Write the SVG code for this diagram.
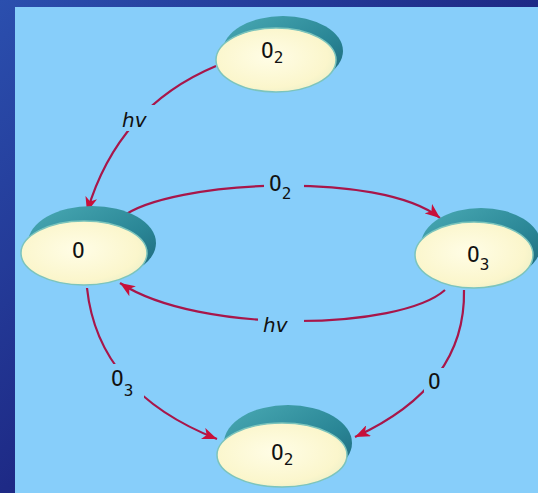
<svg xmlns="http://www.w3.org/2000/svg" width="538" height="493" viewBox="0 0 538 493">
  <defs>
    <linearGradient id="bg" x1="0" y1="0" x2="1" y2="1">
      <stop offset="0" stop-color="#2b4fae"/>
      <stop offset="0.5" stop-color="#1e2a86"/>
      <stop offset="1" stop-color="#161c5c"/>
    </linearGradient>
    <radialGradient id="cream" cx="0.45" cy="0.45" r="0.6">
      <stop offset="0" stop-color="#fffde6"/>
      <stop offset="0.8" stop-color="#fbf6cc"/>
      <stop offset="1" stop-color="#eef0c8"/>
    </radialGradient>
    <linearGradient id="shade" x1="0" y1="0" x2="1" y2="1">
      <stop offset="0" stop-color="#4aaab4"/>
      <stop offset="0.6" stop-color="#2a8696"/>
      <stop offset="1" stop-color="#1c6478"/>
    </linearGradient>
    <marker id="arr" markerUnits="userSpaceOnUse" markerWidth="18" markerHeight="12" refX="15" refY="6" orient="auto">
      <path d="M0,0 L15,6 L0,12 L4,6 Z" fill="#c8103a"/>
    </marker>
  </defs>
  <style>
    .edge { fill: none; stroke: #a8164a; stroke-width: 2.2; marker-end: url(#arr); }
    .shadow { fill: url(#shade); }
    .body { fill: url(#cream); stroke: #7cc4bc; stroke-width: 1.5; }
    .lbl { font-family: "DejaVu Sans Mono", "Liberation Mono", monospace; font-size: 21px; fill: #111; }
    .sub { font-size: 16px; }
    .hv { font-family: "DejaVu Sans", "Liberation Sans", sans-serif; font-style: italic; font-size: 20px; fill: #111; }
    .mask { fill: #87cefa; }
  </style>
  <rect x="0" y="0" width="538" height="493" fill="url(#bg)"/>
  <rect x="15" y="7" width="523" height="486" fill="#87cefa"/>

  <g id="connectors">
    <path class="edge" d="M216,66 Q118,107 87,212"/>
    <path class="edge" d="M122,217 C170,180 380,170 440,218"/>
    <path class="edge" d="M445,290 C400,330 200,335 120,283"/>
    <path class="edge" d="M87,288 Q98,392 217,439"/>
    <path class="edge" d="M464,290 Q466,386 355,437"/>
    <rect class="mask" x="119" y="105" width="38" height="26"/>
    <text class="hv" x="122" y="127">hv</text>
    <rect class="mask" x="264" y="172" width="40" height="30"/>
    <text class="lbl" x="269" y="191">O<tspan class="sub" dy="8">2</tspan></text>
    <rect class="mask" x="258" y="311" width="46" height="24"/>
    <text class="hv" x="263" y="332">hv</text>
    <rect class="mask" x="108" y="364" width="36" height="34"/>
    <text class="lbl" x="111" y="386">O<tspan class="sub" dy="10">3</tspan></text>
    <rect class="mask" x="424" y="368" width="20" height="24"/>
    <text class="lbl" x="428" y="389">O</text>
  </g>

  <g id="n-top">
    <ellipse class="shadow" cx="283" cy="51" rx="60" ry="35"/>
    <ellipse class="body" cx="276" cy="60" rx="60" ry="32"/>
    <text class="lbl" x="261" y="58">O<tspan class="sub" dy="5">2</tspan></text>
  </g>
  <g id="n-left">
    <ellipse class="shadow" cx="92" cy="243" rx="64" ry="37"/>
    <ellipse class="body" cx="84" cy="253" rx="63" ry="32"/>
    <text class="lbl" x="72" y="258">O</text>
  </g>
  <g id="n-right">
    <ellipse class="shadow" cx="481" cy="245" rx="60" ry="37"/>
    <ellipse class="body" cx="474" cy="255" rx="59" ry="33"/>
    <text class="lbl" x="467" y="262">O<tspan class="sub" dy="8">3</tspan></text>
  </g>
  <g id="n-bottom">
    <ellipse class="shadow" cx="288" cy="443" rx="64" ry="38"/>
    <ellipse class="body" cx="282" cy="455" rx="65" ry="32"/>
    <text class="lbl" x="271" y="460">O<tspan class="sub" dy="5">2</tspan></text>
  </g>
</svg>
